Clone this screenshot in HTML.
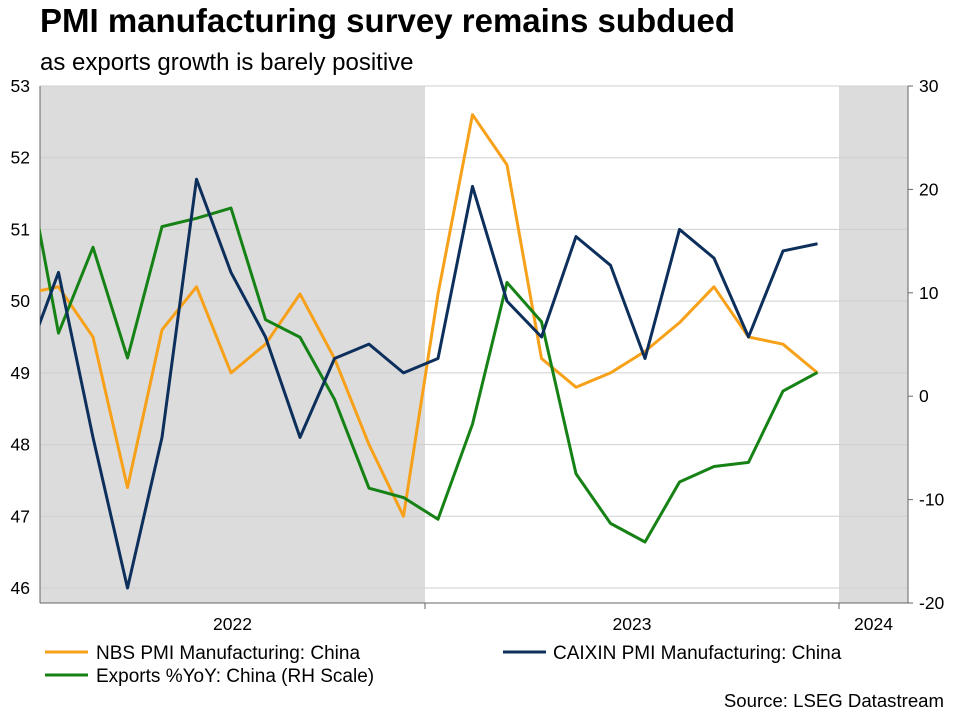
<!DOCTYPE html>
<html><head><meta charset="utf-8"><style>
body{margin:0;background:#fff;font-family:"Liberation Sans",Arial,sans-serif;}
svg text{font-family:"Liberation Sans",Arial,sans-serif;}
</style></head><body>
<svg id="chart" width="955" height="713" viewBox="0 0 955 713" xmlns="http://www.w3.org/2000/svg">
<text x="40" y="32" font-size="33" font-weight="bold" fill="#000">PMI manufacturing survey remains subdued</text>
<text x="40" y="70" font-size="24" fill="#000">as exports growth is barely positive</text>
<g id="bands"></g>
<g id="grid"></g>
<g id="axes"></g>
<g id="series"></g>
<g>
<line x1="45" y1="652" x2="88" y2="652" stroke="#f7a11a" stroke-width="3"/>
<text x="96" y="659" font-size="19">NBS PMI Manufacturing: China</text>
<line x1="503" y1="652" x2="546" y2="652" stroke="#0d2f5c" stroke-width="3"/>
<text x="553" y="659" font-size="19">CAIXIN PMI Manufacturing: China</text>
<line x1="45" y1="675" x2="88" y2="675" stroke="#168216" stroke-width="3"/>
<text x="96" y="682" font-size="19">Exports %YoY: China (RH Scale)</text>
</g>
<text x="944" y="707" font-size="18.6" text-anchor="end">Source: LSEG Datastream</text>
</svg>
<script>
const months = ["2022-01","2022-02","2022-03","2022-04","2022-05","2022-06","2022-07","2022-08","2022-09","2022-10","2022-11","2022-12","2023-01","2023-02","2023-03","2023-04","2023-05","2023-06","2023-07","2023-08","2023-09","2023-10","2023-11","2023-12"];
const nbsPmi = [50.1,50.2,49.5,47.4,49.6,50.2,49.0,49.4,50.1,49.2,48.0,47.0,50.1,52.6,51.9,49.2,48.8,49.0,49.3,49.7,50.2,49.5,49.4,49.0];
const caixinPmi = [49.1,50.4,48.1,46.0,48.1,51.7,50.4,49.5,48.1,49.2,49.4,49.0,49.2,51.6,50.0,49.5,50.9,50.5,49.2,51.0,50.6,49.5,50.7,50.8];
const exportsYoY = [24.0,6.1,14.4,3.7,16.4,17.2,18.2,7.4,5.7,-0.3,-8.9,-9.8,-11.9,-2.7,11.0,7.2,-7.5,-12.3,-14.1,-8.3,-6.8,-6.4,0.5,2.3];
const leftTicks = [46,47,48,49,50,51,52,53];
const rightTicks = [-20,-10,0,10,20,30];
const yearLabels = ["2022","2023","2024"];

const NS="http://www.w3.org/2000/svg";
const L=40,R=908,T=86,B=603;
const Y23=425,Y24=839;
const xPos=i=>24+34.5*i;
const yL=v=>86+(53-v)*(502/7);
const yR=v=>86+(30-v)*(517/50);
function mk(tag,attrs,parent){const e=document.createElementNS(NS,tag);for(const k in attrs)e.setAttribute(k,attrs[k]);document.getElementById(parent).appendChild(e);return e;}
let b1=mk('rect',{x:L,y:T,width:Y23-L,height:B-T,fill:'#dcdcdc'},'bands');


let b2=mk('rect',{x:Y24,y:T,width:R-Y24,height:B-T,fill:'#dcdcdc'},'bands');


leftTicks.forEach(v=>{
 let g=mk('line',{x1:L,x2:R,y1:yL(v),y2:yL(v),stroke:'#cfcfcf','stroke-width':1},'grid');
 
 
 let t=mk('text',{x:L-10,y:yL(v)+6,'font-size':17.5,'text-anchor':'end'},'axes');t.textContent=v;
 
 
});
rightTicks.forEach(v=>{
 mk('line',{x1:R,x2:R+5,y1:yR(v),y2:yR(v),stroke:'#666'},'axes');
 let t=mk('text',{x:R+11,y:yR(v)+6,'font-size':17.5},'axes');t.textContent=v;
 
 
});
mk('line',{x1:L,x2:L,y1:T,y2:B,stroke:'#666'},'axes');
mk('line',{x1:R,x2:R,y1:T,y2:B,stroke:'#666'},'axes');
mk('line',{x1:L,x2:R,y1:B,y2:B,stroke:'#666'},'axes');
[Y23,Y24].forEach(x=>mk('line',{x1:x,x2:x,y1:B,y2:B+6,stroke:'#666'},'axes'));
const yearCenters=[(L+Y23)/2,(Y23+Y24)/2,(Y24+R)/2];
yearLabels.forEach((y,i)=>{let t=mk('text',{x:yearCenters[i],y:630,'font-size':17.5,'text-anchor':'middle'},'axes');t.textContent=y;
 
 });
mk('clipPath',{id:'clip'},'series').innerHTML='<rect x="40" y="80" width="868" height="530"/>';
function line(vals,yf,color,name){
 const p=mk('polyline',{points:vals.map((v,i)=>xPos(i)+','+yf(v)).join(' '),fill:'none',stroke:color,'stroke-width':3,'stroke-linejoin':'round','clip-path':'url(#clip)'},'series');
 
 
}
line(nbsPmi,yL,'#f7a11a','nbs-pmi-line');
line(exportsYoY,yR,'#168216','exports-line');
line(caixinPmi,yL,'#0d2f5c','caixin-pmi-line');
</script>
</body></html>
